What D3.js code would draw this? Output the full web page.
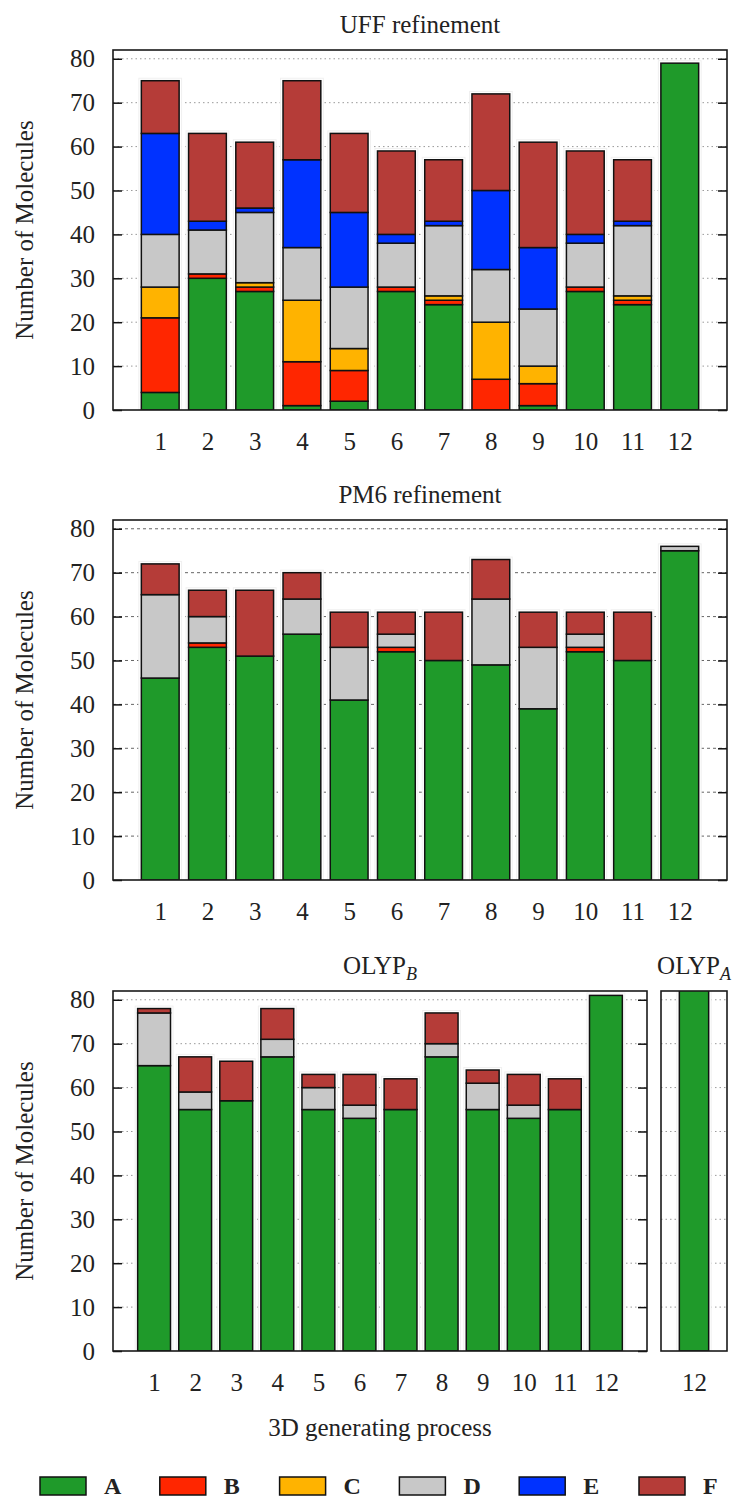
<!DOCTYPE html>
<html>
<head>
<meta charset="utf-8">
<script src="https://cdn.jsdelivr.net/npm/d3@7"></script>
<style>
  body { margin: 0; background: #fff; }
  text { font-family: "Liberation Serif", "Times New Roman", serif; fill: #222; }
</style>
</head>
<body>
<div id="chart"></div>
<script>
// Categories and series
var processes = [1, 2, 3, 4, 5, 6, 7, 8, 9, 10, 11, 12];
var seriesKeys = ["A", "B", "C", "D", "E", "F"];
var seriesColors = ["#1f9a2a", "#ff2600", "#ffb300", "#c8c8c8", "#0032ff", "#b53c38"];
var yTicks = [0, 10, 20, 30, 40, 50, 60, 70, 80];

// counts per process, columns A..F
var uffCounts = [
  [4, 17, 7, 12, 23, 12],
  [30, 1, 0, 10, 2, 20],
  [27, 1, 1, 16, 1, 15],
  [1, 10, 14, 12, 20, 18],
  [2, 7, 5, 14, 17, 18],
  [27, 1, 0, 10, 2, 19],
  [24, 1, 1, 16, 1, 14],
  [0, 7, 13, 12, 18, 22],
  [1, 5, 4, 13, 14, 24],
  [27, 1, 0, 10, 2, 19],
  [24, 1, 1, 16, 1, 14],
  [79, 0, 0, 0, 0, 0]
];
var pm6Counts = [
  [46, 0, 0, 19, 0, 7],
  [53, 1, 0, 6, 0, 6],
  [51, 0, 0, 0, 0, 15],
  [56, 0, 0, 8, 0, 6],
  [41, 0, 0, 12, 0, 8],
  [52, 1, 0, 3, 0, 5],
  [50, 0, 0, 0, 0, 11],
  [49, 0, 0, 15, 0, 9],
  [39, 0, 0, 14, 0, 8],
  [52, 1, 0, 3, 0, 5],
  [50, 0, 0, 0, 0, 11],
  [75, 0, 0, 1, 0, 0]
];
var olypBCounts = [
  [65, 0, 0, 12, 0, 1],
  [55, 0, 0, 4, 0, 8],
  [57, 0, 0, 0, 0, 9],
  [67, 0, 0, 4, 0, 7],
  [55, 0, 0, 5, 0, 3],
  [53, 0, 0, 3, 0, 7],
  [55, 0, 0, 0, 0, 7],
  [67, 0, 0, 3, 0, 7],
  [55, 0, 0, 6, 0, 3],
  [53, 0, 0, 3, 0, 7],
  [55, 0, 0, 0, 0, 7],
  [81, 0, 0, 0, 0, 0]
];
var olypAProcesses = [12];
var olypACounts = [[84, 0, 0, 0, 0, 0]];

var width = 737, height = 1504;
var svg = d3.select("#chart").append("svg")
    .attr("width", width)
    .attr("height", height);

function toRows(procs, counts) {
    return procs.map(function (p, i) {
        var r = { process: p };
        seriesKeys.forEach(function (k, j) { r[k] = counts[i][j]; });
        return r;
    });
}

function drawPanel(p) {
    var x = d3.scaleLinear().domain(p.domain).range([p.left, p.right]);
    var y = d3.scaleLinear().domain([0, 82]).range([p.bottom, p.top]);
    var g = svg.append("g");

    svg.append("clipPath").attr("id", "clip-" + p.name)
        .append("rect")
        .attr("x", p.left).attr("y", p.top)
        .attr("width", p.right - p.left).attr("height", p.bottom - p.top);

    // dotted grid
    g.selectAll(".grid").data(yTicks.filter(function (t) { return t > 0; }))
        .enter().append("line")
        .attr("x1", p.left).attr("x2", p.right)
        .attr("y1", function (d) { return y(d); }).attr("y2", function (d) { return y(d); })
        .attr("stroke", p.gridColor)
        .attr("stroke-width", 1)
        .attr("stroke-dasharray", p.gridDash);

    var rows = toRows(p.procs, p.counts);
    var stacked = d3.stack().keys(seriesKeys)(rows);
    var bw = x(p.domain[0] + 0.8) - x(p.domain[0]);
    var total = function (d) { return d3.sum(seriesKeys, function (k) { return d[k]; }); };

    var bars = g.append("g").attr("clip-path", "url(#clip-" + p.name + ")");

    // white gap behind each bar (breaks the grid like the original)
    bars.selectAll(".halo").data(rows).enter().append("rect")
        .attr("x", function (d) { return x(d.process) - bw / 2 - 2.5; })
        .attr("width", bw + 5)
        .attr("y", function (d) { return y(total(d)) - 2.5; })
        .attr("height", function (d) { return y(0) - y(total(d)) + 2.5; })
        .attr("fill", "#fff")
        .attr("stroke", "#f0f0f0");

    bars.selectAll(".layer").data(stacked).enter().append("g")
        .attr("fill", function (d, i) { return seriesColors[i]; })
        .selectAll("rect")
        .data(function (d) { return d.filter(function (s) { return s[1] > s[0]; }); })
        .enter().append("rect")
        .attr("x", function (d) { return x(d.data.process) - bw / 2; })
        .attr("width", bw)
        .attr("y", function (d) { return y(d[1]); })
        .attr("height", function (d) { return y(d[0]) - y(d[1]); })
        .attr("stroke", "#111")
        .attr("stroke-width", 1.5);

    if (p.leftAxis) {
        var la = g.append("g").attr("transform", "translate(" + p.left + ",0)")
            .call(d3.axisLeft(y).tickValues(yTicks).tickSize(-9).tickPadding(18));
        la.select(".domain").remove();
        la.selectAll("line").attr("stroke", "#111").attr("stroke-width", 1.5);
        la.selectAll("text").style("font-size", "25px").style("font-family", null).attr("fill", "#222");
    }
    if (p.rightAxis) {
        var ra = g.append("g").attr("transform", "translate(" + p.right + ",0)")
            .call(d3.axisRight(y).tickValues(yTicks).tickSize(-9).tickFormat(""));
        ra.select(".domain").remove();
        ra.selectAll("line").attr("stroke", "#111").attr("stroke-width", 1.5);
    }

    var xa = g.append("g").attr("transform", "translate(0," + p.bottom + ")")
        .call(d3.axisBottom(x).tickValues(p.procs).tickSize(0).tickPadding(22).tickFormat(d3.format("d")));
    xa.select(".domain").remove();
    xa.selectAll("text").style("font-size", "25px").style("font-family", null).attr("fill", "#222");

    // frame
    g.append("rect")
        .attr("x", p.left).attr("y", p.top)
        .attr("width", p.right - p.left).attr("height", p.bottom - p.top)
        .attr("fill", "none")
        .attr("stroke", "#1a1a1a")
        .attr("stroke-width", 1.6);

    if (p.title) {
        svg.append("text")
            .attr("x", (p.left + p.right) / 2)
            .attr("y", p.top - 17)
            .attr("text-anchor", "middle")
            .style("font-size", "25px")
            .text(p.title);
    }
    if (p.yLabel) {
        svg.append("text")
            .attr("transform", "translate(33," + (p.top + p.bottom) / 2 + ") rotate(-90)")
            .attr("text-anchor", "middle")
            .style("font-size", "25px")
            .text("Number of Molecules");
    }
}

drawPanel({ name: "uff", left: 113, right: 727, top: 50, bottom: 410, domain: [0, 13],
    procs: processes, counts: uffCounts, leftAxis: true, rightAxis: true, yLabel: true,
    gridColor: "#9a9a9a", gridDash: "1.5,3", title: "UFF refinement" });

drawPanel({ name: "pm6", left: 113, right: 727, top: 520, bottom: 880, domain: [0, 13],
    procs: processes, counts: pm6Counts, leftAxis: true, rightAxis: true, yLabel: true,
    gridColor: "#666", gridDash: "3,3", title: "PM6 refinement" });

drawPanel({ name: "olypb", left: 113, right: 647, top: 991, bottom: 1351, domain: [0, 13],
    procs: processes, counts: olypBCounts, leftAxis: true, rightAxis: true, yLabel: true,
    gridColor: "#9a9a9a", gridDash: "1.5,3" });

drawPanel({ name: "olypa", left: 661, right: 727, top: 991, bottom: 1351, domain: [11.1, 12.9],
    procs: olypAProcesses, counts: olypACounts, leftAxis: false, rightAxis: false, yLabel: false,
    gridColor: "#9a9a9a", gridDash: "1.5,3" });

// OLYP titles with subscripts
function subTitle(cx, sub) {
    var t = svg.append("text")
        .attr("x", cx).attr("y", 974)
        .attr("text-anchor", "middle")
        .style("font-size", "25px");
    t.append("tspan").text("OLYP");
    t.append("tspan").attr("dy", 6).style("font-style", "italic").style("font-size", "18px").text(sub);
}
subTitle(380, "B");
subTitle(694, "A");

svg.append("text")
    .attr("x", 380).attr("y", 1436)
    .attr("text-anchor", "middle")
    .style("font-size", "25px")
    .text("3D generating process");

// legend
var legend = svg.append("g").attr("transform", "translate(40,1477)");
var item = legend.selectAll(".item").data(seriesKeys).enter().append("g")
    .attr("transform", function (d, i) { return "translate(" + (i * 119.8) + ",0)"; });
item.append("rect")
    .attr("width", 46).attr("height", 18)
    .attr("fill", function (d, i) { return seriesColors[i]; })
    .attr("stroke", "#111").attr("stroke-width", 1.5);
item.append("text")
    .attr("x", 64).attr("y", 17)
    .style("font-size", "24px")
    .style("font-weight", "bold")
    .text(function (d) { return d; });
</script>
</body>
</html>
